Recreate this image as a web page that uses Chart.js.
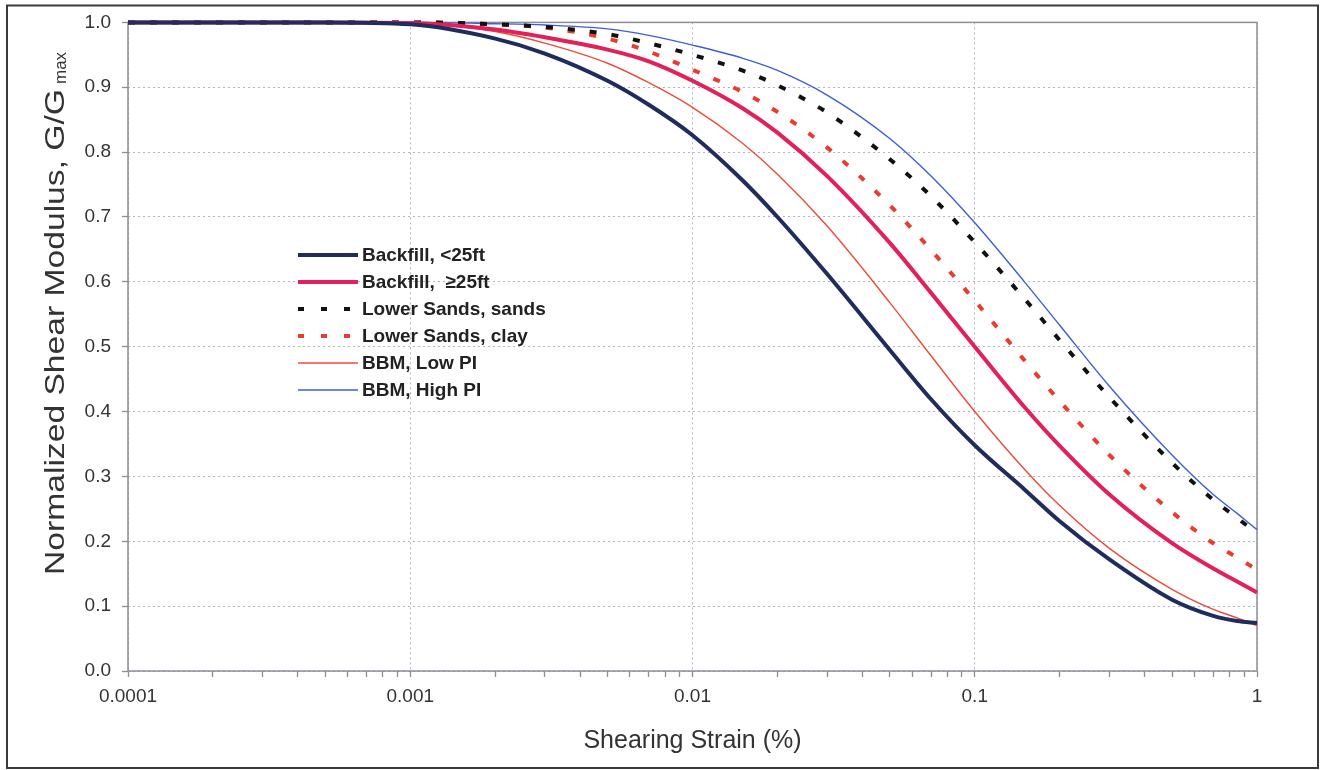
<!DOCTYPE html>
<html>
<head>
<meta charset="utf-8">
<title>Shear modulus reduction curves</title>
<script src="https://cdn.jsdelivr.net/npm/chart.js@4.4.1/dist/chart.umd.min.js"></script>
<style>
  html, body { margin: 0; padding: 0; background: #fff; }
  #wrap { position: relative; width: 1323px; height: 770px; }
</style>
</head>
<body>
<div id="wrap"><canvas id="modulus" width="1323" height="770"></canvas></div>
<script>
// shearing strain (%) and G/Gmax for each material
const strain = [0.0001, 0.0005, 0.001, 0.002, 0.003, 0.005, 0.007, 0.01, 0.015, 0.02,
  0.03, 0.05, 0.07, 0.1, 0.15, 0.2, 0.3, 0.5, 0.7, 0.85, 1];

const backfillShallow = [1, 1, 0.997, 0.975, 0.952, 0.91, 0.873, 0.826, 0.757, 0.7,
  0.612, 0.495, 0.419, 0.348, 0.28, 0.231, 0.172, 0.11, 0.085, 0.077, 0.074];
const backfillDeep = [1, 1, 0.999, 0.989, 0.977, 0.958, 0.94, 0.91, 0.868, 0.83,
  0.763, 0.66, 0.583, 0.5, 0.407, 0.347, 0.272, 0.197, 0.158, 0.138, 0.121];
const lowerSands = [1, 1, 1, 0.997, 0.993, 0.982, 0.968, 0.95, 0.926, 0.903,
  0.861, 0.789, 0.732, 0.661, 0.574, 0.51, 0.422, 0.321, 0.264, 0.236, 0.212];
const lowerClay = [1, 1, 1, 0.997, 0.992, 0.975, 0.955, 0.927, 0.893, 0.862,
  0.807, 0.718, 0.649, 0.571, 0.479, 0.416, 0.333, 0.245, 0.197, 0.175, 0.156];
const bbmLowPI = [1, 1, 0.999, 0.986, 0.968, 0.937, 0.907, 0.869, 0.814, 0.766,
  0.686, 0.568, 0.486, 0.4, 0.311, 0.255, 0.189, 0.126, 0.095, 0.082, 0.07];
const bbmHighPI = [1, 1, 1, 0.998, 0.996, 0.99, 0.98, 0.965, 0.945, 0.926,
  0.888, 0.821, 0.763, 0.691, 0.6, 0.533, 0.439, 0.333, 0.272, 0.243, 0.218];

const seriesLabels = ["Backfill, <25ft", "Backfill,  \u226525ft", "Lower Sands, sands",
  "Lower Sands, clay", "BBM, Low PI", "BBM, High PI"];

const strainTickLabels = ["0.0001", "0.001", "0.01", "0.1", "1"];
const decades = [0.0001, 0.001, 0.01, 0.1, 1];

const FONT = '"Liberation Sans", Arial, sans-serif';
const TEXT = "#333";
const AXIS = "#8c8c98";
const GRID = "#b4b4c4";

const isDecade = (v) => Math.abs(Math.log10(v) - Math.round(Math.log10(v))) < 1e-6;

// 1..9 x 10^n between 1e-4 and 1
const logTicks = [];
decades.slice(0, -1).forEach((d) => {
  for (let m = 1; m < 10; m++) logTicks.push(+(d * m).toPrecision(3));
});
logTicks.push(1);

const line = (label, values, color, width, dash) => ({
  label,
  data: strain.map((x, i) => ({ x, y: values[i] })),
  borderColor: color,
  backgroundColor: color,
  borderWidth: width,
  borderDash: dash,
  borderCapStyle: "butt",
  pointRadius: 0,
  fill: false,
  cubicInterpolationMode: "monotone",
  clip: 6,
});

const datasets = [
  line(seriesLabels[0], backfillShallow, "#1f2c5e", 4, []),
  line(seriesLabels[1], backfillDeep, "#e2215b", 4, []),
  line(seriesLabels[2], lowerSands, "#111111", 4, [7, 15]),
  line(seriesLabels[3], lowerClay, "#ee3a2c", 4, [7, 15]),
  line(seriesLabels[4], bbmLowPI, "#ef4a38", 1.4, []),
  line(seriesLabels[5], bbmHighPI, "#3d5fd4", 1.4, []),
];

// solid plot frame under the curves, outer border on top
const frame = {
  id: "frame",
  beforeDatasetsDraw(chart) {
    const { ctx, chartArea: a } = chart;
    ctx.save();
    ctx.strokeStyle = AXIS;
    ctx.lineWidth = 1.5;
    ctx.strokeRect(a.left, a.top, a.right - a.left, a.bottom - a.top);
    ctx.restore();
  },
  afterDraw(chart) {
    const { ctx } = chart;
    ctx.save();
    ctx.strokeStyle = "#3a3a3a";
    ctx.lineWidth = 2;
    ctx.strokeRect(7, 5.5, 1311, 762.5);
    ctx.restore();
  },
};

// y title with the "max" subscript
const yTitle = {
  id: "yTitle",
  afterDraw(chart) {
    const { ctx } = chart;
    const main = "Normalized Shear Modulus, G/G";
    const len = 486;
    ctx.save();
    ctx.translate(64, 575);
    ctx.rotate(-Math.PI / 2);
    ctx.fillStyle = TEXT;
    ctx.textBaseline = "alphabetic";
    ctx.textAlign = "left";
    ctx.font = `28px ${FONT}`;
    const w = ctx.measureText(main).width;
    ctx.save();
    ctx.scale(len / w, 1);
    ctx.fillText(main, 0, 0);
    ctx.restore();
    ctx.font = `17px ${FONT}`;
    ctx.fillText("max", len + 5, 2);
    ctx.restore();
  },
};

// legend box inside the plot
const legendBox = {
  id: "legendBox",
  afterDraw(chart) {
    const { ctx } = chart;
    const x0 = 298, x1 = 358, top = 255, step = 27;
    ctx.save();
    ctx.font = `bold 19px ${FONT}`;
    ctx.textBaseline = "middle";
    ctx.fillStyle = "#222";
    chart.data.datasets.forEach((ds, i) => {
      const y = top + i * step;
      ctx.beginPath();
      ctx.setLineDash(ds.borderDash.length ? [6, 17] : []);
      ctx.strokeStyle = ds.borderColor;
      ctx.lineWidth = ds.borderWidth;
      ctx.moveTo(x0, y);
      ctx.lineTo(x1, y);
      ctx.stroke();
      ctx.setLineDash([]);
      ctx.fillText(ds.label, 362, y + 1);
    });
    ctx.restore();
  },
};

new Chart(document.getElementById("modulus").getContext("2d"), {
  type: "line",
  data: { datasets },
  options: {
    animation: false,
    responsive: false,
    devicePixelRatio: 1,
    layout: { padding: { top: 18, right: 66, bottom: 5, left: 0 } },
    plugins: {
      legend: { display: false },
      tooltip: { enabled: false },
    },
    scales: {
      x: {
        type: "logarithmic",
        min: 0.0001,
        max: 1,
        afterBuildTicks: (axis) => {
          axis.ticks = logTicks.map((value) => ({ value, major: isDecade(value) }));
        },
        afterFit: (axis) => {
          axis.height = 94;
        },
        ticks: {
          autoSkip: false,
          maxRotation: 0,
          padding: 8,
          color: TEXT,
          font: { family: FONT, size: 19 },
          callback: (v) => {
            const k = decades.findIndex((d) => Math.abs(d - v) / d < 1e-6);
            return k >= 0 ? strainTickLabels[k] : "";
          },
        },
        grid: {
          color: (c) => (c.tick && isDecade(c.tick.value) ? GRID : "rgba(0,0,0,0)"),
          lineWidth: 1,
          tickColor: AXIS,
          tickLength: 6,
          tickWidth: 1.3,
        },
        border: { display: false, dash: [2, 3] },
        title: {
          display: true,
          text: "Shearing Strain (%)",
          color: TEXT,
          font: { family: FONT, size: 25 },
          padding: { top: 0, bottom: 9 },
        },
      },
      y: {
        min: 0,
        max: 1,
        afterFit: (axis) => {
          axis.width = 128;
        },
        ticks: {
          stepSize: 0.1,
          padding: 11,
          color: TEXT,
          font: { family: FONT, size: 19 },
          callback: (v) => v.toFixed(1),
        },
        grid: {
          color: GRID,
          lineWidth: 1,
          tickColor: AXIS,
          tickLength: 6,
          tickWidth: 1.3,
        },
        border: { display: false, dash: [2, 3] },
      },
    },
  },
  plugins: [frame, yTitle, legendBox],
});
</script>
</body>
</html>
